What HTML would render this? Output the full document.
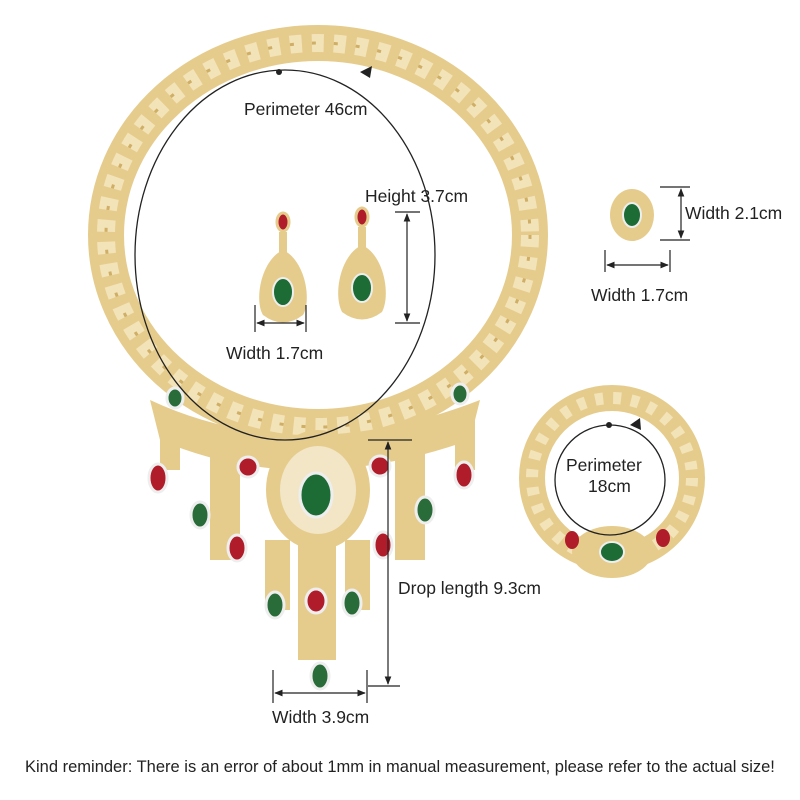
<!DOCTYPE html>
<html><head><style>
html,body{margin:0;padding:0;background:#fff;}
svg{display:block;}
text{font-family:"Liberation Sans","DejaVu Sans",sans-serif;font-size:17.5px;fill:#222;}
</style></head><body>
<svg width="800" height="800" viewBox="0 0 800 800">
<defs>
<marker id="ar" viewBox="0 0 10 10" refX="9" refY="5" markerWidth="7" markerHeight="7" orient="auto-start-reverse"><path d="M0,1 L10,5 L0,9 z" fill="#222"/></marker>
</defs>
<ellipse cx="318" cy="235" rx="212" ry="192" fill="none" stroke="#e6cc8c" stroke-width="36"/>
<ellipse cx="318" cy="235" rx="212" ry="192" fill="none" stroke="#f3e3b8" stroke-width="18" stroke-dasharray="12 10"/>
<ellipse cx="318" cy="235" rx="212" ry="192" fill="none" stroke="#cfae66" stroke-width="3" stroke-dasharray="4 18"/>
<g fill="#e6cc8c">
<path d="M150,400 Q300,470 480,400 L470,440 Q300,500 160,440 z"/>
<ellipse cx="318" cy="490" rx="52" ry="60"/>
<rect x="298" y="540" width="38" height="120"/>
<rect x="210" y="440" width="30" height="120"/>
<rect x="395" y="440" width="30" height="120"/>
<rect x="160" y="420" width="20" height="50"/>
<rect x="455" y="420" width="20" height="50"/>
<rect x="265" y="540" width="25" height="70"/>
<rect x="345" y="540" width="25" height="70"/>
</g>
<ellipse cx="318" cy="490" rx="38" ry="44" fill="#f2e6c6"/>
<g stroke="#eee" stroke-width="3">
<ellipse cx="316" cy="495" rx="16" ry="22" fill="#1d6b35"/>
<ellipse cx="158" cy="478" rx="9" ry="14" fill="#b01c2a"/>
<ellipse cx="200" cy="515" rx="9" ry="13" fill="#2a6b3a"/>
<ellipse cx="237" cy="548" rx="9" ry="13" fill="#b01c2a"/>
<ellipse cx="248" cy="467" rx="10" ry="10" fill="#b01c2a"/>
<ellipse cx="275" cy="605" rx="9" ry="13" fill="#2a6b3a"/>
<ellipse cx="316" cy="601" rx="10" ry="12" fill="#b01c2a"/>
<ellipse cx="352" cy="603" rx="9" ry="13" fill="#2a6b3a"/>
<ellipse cx="320" cy="676" rx="9" ry="13" fill="#2a6b3a"/>
<ellipse cx="380" cy="466" rx="10" ry="10" fill="#b01c2a"/>
<ellipse cx="383" cy="545" rx="9" ry="13" fill="#b01c2a"/>
<ellipse cx="425" cy="510" rx="9" ry="13" fill="#2a6b3a"/>
<ellipse cx="464" cy="475" rx="9" ry="13" fill="#b01c2a"/>
<ellipse cx="175" cy="398" rx="8" ry="10" fill="#2a6b3a"/>
<ellipse cx="460" cy="394" rx="8" ry="10" fill="#2a6b3a"/>
</g>
<ellipse cx="285" cy="255" rx="150" ry="185" fill="none" stroke="#222" stroke-width="1.3"/>
<circle cx="279" cy="72" r="3" fill="#222"/>
<path d="M360,72 L372,66 L370,78 z" fill="#222"/>
<text x="244" y="115">Perimeter 46cm</text>
<g>
<ellipse cx="283" cy="222" rx="6" ry="9" fill="#b01c2a" stroke="#e6cc8c" stroke-width="3"/>
<rect x="279" y="232" width="8" height="22" fill="#e6cc8c"/>
<path d="M283,250 C305,260 312,300 303,315 Q283,330 263,315 C254,300 261,260 283,250z" fill="#e6cc8c"/>
<ellipse cx="283" cy="292" rx="10" ry="14" fill="#1d6b35" stroke="#eee" stroke-width="2"/>
<ellipse cx="362" cy="217" rx="6" ry="9" fill="#b01c2a" stroke="#e6cc8c" stroke-width="3"/>
<rect x="358" y="227" width="8" height="22" fill="#e6cc8c"/>
<path d="M362,245 C384,255 391,295 382,312 Q362,327 342,312 C333,295 340,255 362,245z" fill="#e6cc8c"/>
<ellipse cx="362" cy="288" rx="10" ry="14" fill="#1d6b35" stroke="#eee" stroke-width="2"/>
</g>
<g stroke="#222" stroke-width="1.2" fill="none">
<line x1="395" y1="212" x2="420" y2="212"/><line x1="395" y1="323" x2="420" y2="323"/>
<line x1="407" y1="214" x2="407" y2="321" marker-start="url(#ar)" marker-end="url(#ar)"/>
<line x1="255" y1="305" x2="255" y2="332"/><line x1="306" y1="305" x2="306" y2="332"/>
<line x1="257" y1="323" x2="304" y2="323" marker-start="url(#ar)" marker-end="url(#ar)"/>
<line x1="368" y1="440" x2="412" y2="440"/><line x1="368" y1="686" x2="400" y2="686"/>
<line x1="388" y1="442" x2="388" y2="684" marker-start="url(#ar)" marker-end="url(#ar)"/>
<line x1="273" y1="670" x2="273" y2="703"/><line x1="367" y1="670" x2="367" y2="703"/>
<line x1="275" y1="693" x2="365" y2="693" marker-start="url(#ar)" marker-end="url(#ar)"/>
<line x1="660" y1="187" x2="690" y2="187"/><line x1="660" y1="240" x2="690" y2="240"/>
<line x1="681" y1="189" x2="681" y2="238" marker-start="url(#ar)" marker-end="url(#ar)"/>
<line x1="605" y1="250" x2="605" y2="272"/><line x1="670" y1="250" x2="670" y2="272"/>
<line x1="607" y1="265" x2="668" y2="265" marker-start="url(#ar)" marker-end="url(#ar)"/>
</g>
<text x="365" y="202">Height 3.7cm</text>
<text x="226" y="359">Width 1.7cm</text>
<text x="398" y="594">Drop length 9.3cm</text>
<text x="272" y="723">Width 3.9cm</text>
<ellipse cx="632" cy="215" rx="22" ry="26" fill="#e6cc8c"/>
<ellipse cx="632" cy="215" rx="9" ry="12" fill="#1d6b35" stroke="#eee" stroke-width="2"/>
<text x="685" y="219">Width 2.1cm</text>
<text x="591" y="301">Width 1.7cm</text>
<circle cx="612" cy="478" r="80" fill="none" stroke="#e6cc8c" stroke-width="26"/>
<circle cx="612" cy="478" r="80" fill="none" stroke="#f3e3b8" stroke-width="12" stroke-dasharray="8 10"/>
<ellipse cx="612" cy="552" rx="40" ry="26" fill="#e6cc8c"/>
<ellipse cx="612" cy="552" rx="12" ry="10" fill="#1d6b35" stroke="#eee" stroke-width="2"/>
<ellipse cx="572" cy="540" rx="7" ry="9" fill="#b01c2a"/>
<ellipse cx="663" cy="538" rx="7" ry="9" fill="#b01c2a"/>
<circle cx="610" cy="480" r="55" fill="none" stroke="#222" stroke-width="1.3"/>
<circle cx="609" cy="425" r="3" fill="#222"/>
<path d="M630,425 L640,418 L641,430 z" fill="#222"/>
<text x="566" y="471">Perimeter</text>
<text x="588" y="492">18cm</text>
<text x="25" y="772" style="font-size:16.5px">Kind reminder: There is an error of about 1mm in manual measurement, please refer to the actual size!</text>
</svg>
</body></html>
